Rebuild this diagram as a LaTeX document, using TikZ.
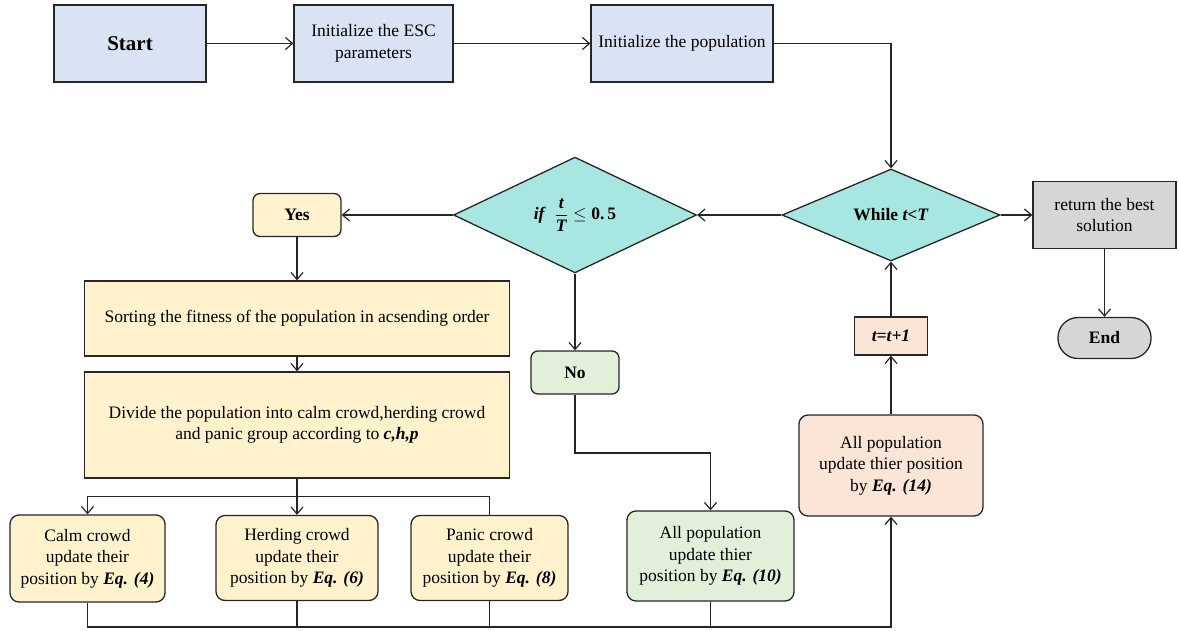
\documentclass[tikz,border=0pt]{standalone}
\usepackage{fontspec}
\setmainfont{Liberation Serif}
\usetikzlibrary{shapes.geometric,arrows.meta,calc}
\definecolor{blueF}{HTML}{DAE3F3}
\definecolor{cyanF}{HTML}{A8E6E1}
\definecolor{yelF}{HTML}{FFF2CC}
\definecolor{greF}{HTML}{E2F0D9}
\definecolor{peaF}{HTML}{FBE5D6}
\definecolor{grayF}{HTML}{D6D6D6}
\definecolor{edge}{HTML}{262626}
\newcommand\fs{\fontsize{17.5}{21.5}\selectfont}
\begin{document}
\begin{tikzpicture}[x=1pt,y=1pt,
  base/.style={draw=edge,line width=1.3pt,align=center,font=\fs,inner sep=2pt},
  sq/.style={base,rectangle},
  rnd/.style={base,rectangle,rounded corners=9pt},
  dia/.style={base,diamond,fill=cyanF,inner sep=0pt},
  arr/.style={draw=edge,line width=1.2pt,-{Straight Barb[length=7pt,width=12pt]}},
  ln/.style={draw=edge,line width=1.2pt}]
\useasboundingbox (0,0) rectangle (1179,-630);
% top row
\node[sq,fill=blueF,minimum width=152pt,minimum height=77pt] (start) at (130,-43.5) {\fontsize{21}{24}\selectfont\textbf{Start}};
\node[sq,fill=blueF,minimum width=159pt,minimum height=77pt] (esc) at (373.5,-43.5) {Initialize the ESC\\parameters};
\node[sq,fill=blueF,minimum width=182pt,minimum height=77pt] (pop) at (682,-43.5) {Initialize the population};
% diamonds
\node[dia,minimum width=218pt,minimum height=92pt] (while) at (891,-215) {\textbf{While \textit{t<T}}};
\node[dia,minimum width=243pt,minimum height=109pt] (if) at (575,-215) {\textbf{\textit{if}}\ \ $\displaystyle\frac{\textbf{\textit{t}}}{\textbf{\textit{T}}}\le\textbf{0.\,5}$};
\node[sq,fill=grayF,minimum width=143pt,minimum height=67pt] (ret) at (1104.5,-215) {return the best\\solution};
\node[base,fill=grayF,rounded corners=20pt,minimum width=93pt,minimum height=41pt] (end) at (1104.5,-338) {\textbf{End}};
% yes branch
\node[rnd,fill=yelF,rounded corners=7pt,minimum width=88pt,minimum height=43pt] (yes) at (297,-215) {\textbf{Yes}};
\node[sq,fill=yelF,minimum width=425pt,minimum height=75pt] (sort) at (297,-318.5) {Sorting the fitness of the population in acsending order};
\node[sq,fill=yelF,minimum width=425pt,minimum height=106pt] (div) at (297,-425) {Divide the population into calm crowd,herding crowd\\and panic group according to \textbf{\textit{c,h,p}}};
\node[rnd,fill=yelF,minimum width=155pt,minimum height=87pt] (calm) at (87.5,-558.5) {Calm crowd\\update their\\position by \textbf{\textit{Eq. (4)}}};
\node[rnd,fill=yelF,minimum width=162pt,minimum height=85pt] (herd) at (297,-558) {Herding crowd\\update their\\position by \textbf{\textit{Eq. (6)}}};
\node[rnd,fill=yelF,minimum width=157pt,minimum height=85pt] (panic) at (489.5,-558) {Panic crowd\\update their\\position by \textbf{\textit{Eq. (8)}}};
% no branch
\node[rnd,fill=greF,rounded corners=7pt,minimum width=88pt,minimum height=43pt] (no) at (575,-372.5) {\textbf{No}};
\node[rnd,fill=greF,minimum width=167pt,minimum height=90pt] (all10) at (710.5,-556) {All population\\update thier\\position by \textbf{\textit{Eq. (10)}}};
% update branch
\node[rnd,fill=peaF,minimum width=184pt,minimum height=101pt] (all14) at (891,-465.5) {All population\\update thier position\\by \textbf{\textit{Eq. (14)}}};
\node[sq,fill=peaF,minimum width=73pt,minimum height=38pt] (tt) at (891,-336) {\textbf{\textit{t=t+1}}};
\coordinate (lvlno) at (0,-453);
\coordinate (lvlbot) at (0,-627);
% connectors
\draw[arr] (start) -- (esc);
\draw[arr] (esc) -- (pop);
\draw[arr] (pop.east) -| (while.north);
\draw[arr] (while.west) -- (if.east);
\draw[arr] (while.east) -- (ret.west);
\draw[arr] (ret) -- (end);
\draw[arr] (if.west) -- (yes.east);
\draw[arr] (yes) -- (sort);
\draw[arr] (sort) -- (div);
\draw[ln] (div.south) -- ++(0,-18) coordinate (sp);
\draw[arr] (sp) -| (calm.north);
\draw[arr] (sp) -- (herd.north);
\draw[ln] (sp) -| (panic.north);
\draw[arr] (if.south) -- (no.north);
\draw[arr] (no.south) |- (all10.north |- lvlno) -- (all10.north);
\draw[arr] (calm.south) |- (all14.south |- lvlbot) -- (all14.south);
\draw[ln] (herd.south) -- (herd.south |- lvlbot);
\draw[ln] (panic.south) -- (panic.south |- lvlbot);
\draw[ln] (all10.south) -- (all10.south |- lvlbot);
\draw[arr] (all14) -- (tt);
\draw[arr] (tt) -- (while);
\end{tikzpicture}
\end{document}
